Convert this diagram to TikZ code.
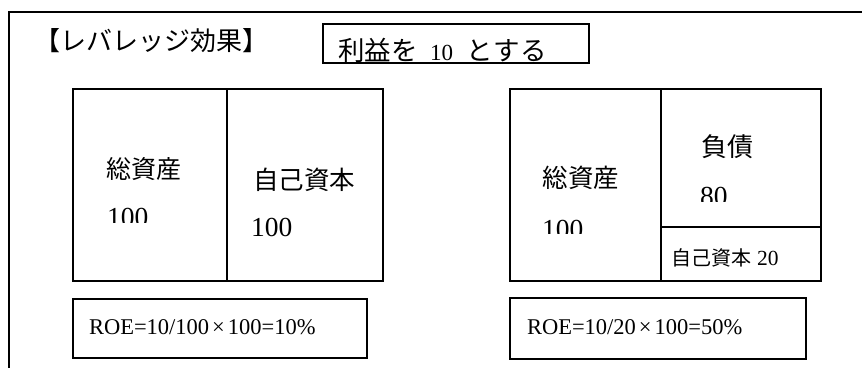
\documentclass[tikz,border=0pt]{standalone}
\usepackage{fontspec}
\setmainfont{Liberation Serif}
\newfontfamily\jp{Noto Sans CJK JP}
\begin{document}
\begin{tikzpicture}[x=1pt,y=-1pt,
  frame/.style={line width=1.3pt},
  cell/.style={draw, line width=1.2pt, inner sep=0pt, outer sep=0pt},
  lbl/.style={inner sep=0pt, outer sep=0pt, anchor=center},
  big/.style={font=\fontsize{25}{30}\selectfont},
  mid/.style={font=\fontsize{20}{24}\selectfont},
  roe/.style={font=\fontsize{22.5}{27}\selectfont}]
\useasboundingbox (0,0) rectangle (862,367);
% outer frame (open to right and bottom)
\coordinate (fbl) at (9,370);
\coordinate (ftl) at (9,12);
\coordinate (ftr) at (866,12);
\draw[frame] (fbl) -- (ftl) -- (ftr);
% title
\node[lbl, font=\fontsize{26}{30}\selectfont] (title) at (151,41) {\jp 【レバレッジ効果】};
% profit box
\node[cell, minimum width=266pt, minimum height=39pt] (pbox) at (456,43.5) {};
\begin{scope}
\clip (324,25) rectangle (588,62.5);
\node[lbl, font=\fontsize{26.5}{30}\selectfont\jp, anchor=base west] (pt1) at (338,60) {利益を};
\node[lbl, font=\fontsize{23}{30}\selectfont, anchor=base west] (pt2) at (430,60) {10};
\node[lbl, font=\fontsize{26.5}{30}\selectfont\jp, anchor=base west] (pt3) at (466,60) {と\hspace{1pt}す\hspace{1pt}る};
\end{scope}
% left balance sheet
\node[cell, minimum width=154pt, minimum height=192pt] (la) at (150,185) {};
\node[cell, minimum width=156pt, minimum height=192pt] (le) at (305,185) {};
\node[lbl, big] (latxt) at (144,169) {\jp 総資産};
\begin{scope}
\clip (90,200) rectangle (200,222.5);
\node[lbl, font=\fontsize{27.5}{30}\selectfont, anchor=north west] (lanum) at (107,208) {100};
\end{scope}
\node[lbl, font=\fontsize{25.5}{30}\selectfont] (letxt) at (304,180) {\jp 自己資本};
\node[lbl, font=\fontsize{27.5}{30}\selectfont, anchor=north west] (lenum) at (251,218.5) {100};
% right balance sheet
\node[cell, minimum width=151pt, minimum height=192pt] (ra) at (585.5,185) {};
\node[cell, minimum width=160pt, minimum height=138pt] (rl) at (741,158) {};
\node[cell, minimum width=160pt, minimum height=54pt] (re) at (741,254) {};
\node[lbl, font=\fontsize{25.5}{30}\selectfont] (ratxt) at (581,178) {\jp 総資産};
\begin{scope}
\clip (520,210) rectangle (640,233.5);
\node[lbl, font=\fontsize{27.5}{30}\selectfont, anchor=north west] (ranum) at (542,220) {100};
\end{scope}
\node[lbl, font=\fontsize{26}{30}\selectfont] (rltxt) at (727,147) {\jp 負債};
\begin{scope}
\clip (680,180) rectangle (760,201);
\node[lbl, font=\fontsize{27.5}{30}\selectfont, anchor=north west] (rlnum) at (700,187) {80};
\end{scope}
\node[lbl, mid, anchor=west] (retxt) at (671,258) {{\jp 自己資本}\hspace{6pt}{\fontsize{21.5}{24}\selectfont 20}};
% ROE boxes
\node[cell, minimum width=294pt, minimum height=59pt] (roel) at (220,328.5) {};
\node[lbl, roe, anchor=west] (roeltxt) at (89,327) {ROE=10/100\hspace{3pt}×\hspace{3pt}100=10\%};
\node[cell, minimum width=296pt, minimum height=61pt] (roer) at (658,328.5) {};
\node[lbl, roe, anchor=west] (roertxt) at (527,327) {ROE=10/20\hspace{3pt}×\hspace{3pt}100=50\%};
\end{tikzpicture}
\end{document}
